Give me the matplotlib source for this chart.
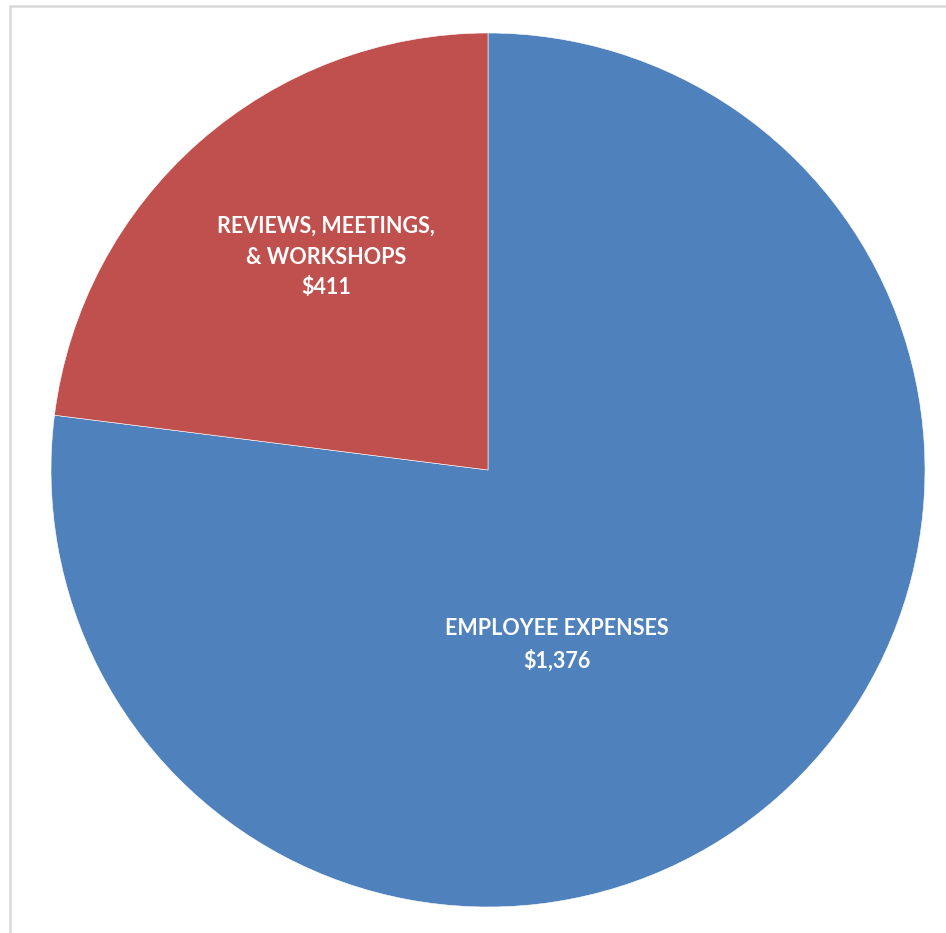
import matplotlib
matplotlib.use("Agg")
import matplotlib.pyplot as plt
from matplotlib.patches import Rectangle

categories = ["EMPLOYEE EXPENSES", "REVIEWS, MEETINGS,\n& WORKSHOPS"]
values = [1376, 411]
value_labels = ["$1,376", "$411"]
colors = ["#4F81BD", "#C0504D"]

W, H = 946, 933
fig = plt.figure(figsize=(W / 100, H / 100), dpi=100)
ax = fig.add_axes([0, 0, 1, 1])

fig.patches.append(Rectangle((10 / W, -0.1), 1.2, (H - 6) / H + 0.1, transform=fig.transFigure,
                             fill=False, edgecolor="#d9d9d9", linewidth=1.8))

cx, cy, r = 488, H - 470, 437
wedges, _ = ax.pie(values, colors=colors, startangle=90, counterclock=False,
                   center=(cx, cy), radius=r, frame=True,
                   wedgeprops=dict(edgecolor="white", linewidth=0.4))
ax.set_xlim(0, W)
ax.set_ylim(0, H)
ax.set_aspect("equal")
ax.axis("off")

font = dict(family=["Lato", "DejaVu Sans"], fontweight="bold", color="white", fontsize=15.5,
            ha="center", va="center", linespacing=1.55)
ax.text(557, H - 645, f"{categories[0]}\n{value_labels[0]}", **font)
ax.text(326, H - 257, f"{categories[1]}\n{value_labels[1]}", **font)

fig.savefig("out.png", dpi=100)
